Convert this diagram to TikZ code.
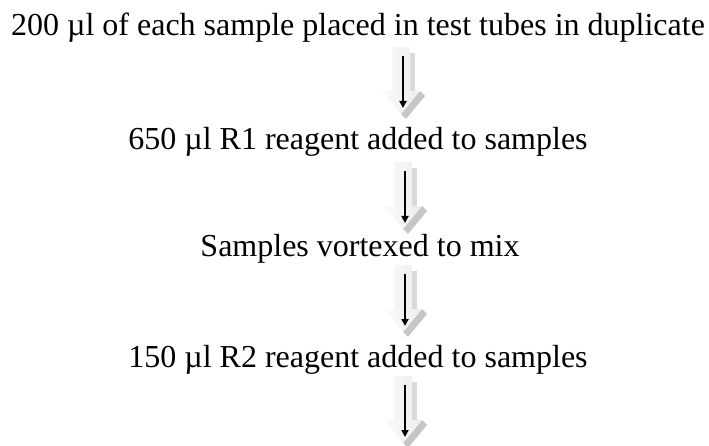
\documentclass[tikz,border=0pt]{standalone}
\usepackage{fontspec}
\setmainfont{Liberation Serif}
\usetikzlibrary{arrows.meta}
\tikzset{
  steptext/.style={anchor=base, inner sep=0pt, font=\fontsize{32}{38}\selectfont},
  blockface/.style={left color=gray!4, right color=gray!14, draw=none},
  blockside/.style={fill=gray!30, draw=none},
  blockheadside/.style={fill=gray!45, draw=none},
  thinarrow/.style={line width=2.4pt, -{Triangle[length=7pt,width=7pt]}},
  pics/blockarrow/.style={code={
    \fill[blockside] (9,6) -- (14,6) -- (14,44) -- (9,44) -- cycle;
    \fill[blockheadside] (19,44) -- (24,49) -- (5,72) -- (0,67) -- cycle;
    \shade[blockface] (-9,0) -- (9,0) -- (9,44) -- (19,44) -- (0,67) -- (-19,44) -- (-9,44) -- cycle;
    \coordinate (-s) at (2,9);
    \coordinate (-e) at (2,61);
    \draw[thinarrow] (-s) -- (-e);
  }}
}
\begin{document}
\begin{tikzpicture}[x=1pt,y=-1pt]
\useasboundingbox (0,0) rectangle (709,446);
\node[steptext] (t1) at (358,36) {200 µl of each sample placed in test tubes in duplicate};
\node[steptext] (t2) at (358,150) {650 µl R1 reagent added to samples};
\node[steptext] (t3) at (360,257) {Samples vortexed to mix};
\node[steptext] (t4) at (358,367) {150 µl R2 reagent added to samples};
\pic (a1) at (401,47) {blockarrow};
\pic (a2) at (403,162) {blockarrow};
\pic (a3) at (403,265) {blockarrow};
\pic (a4) at (403,376) {blockarrow};
\end{tikzpicture}
\end{document}
